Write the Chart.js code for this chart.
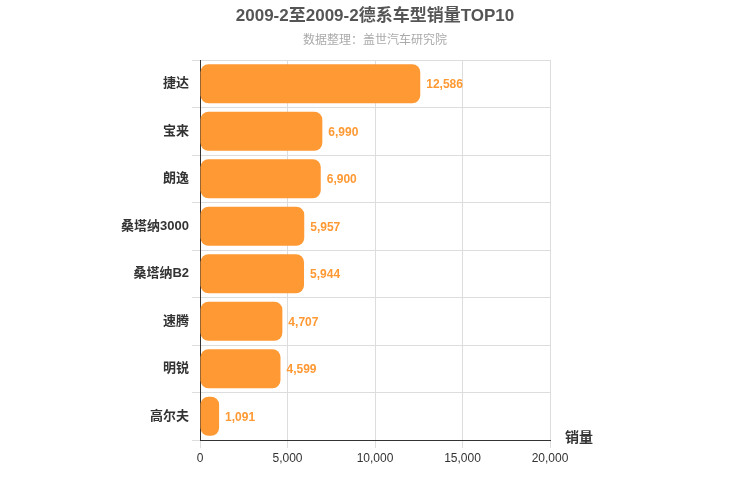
<!DOCTYPE html>
<html><head><meta charset="utf-8">
<script src="https://cdn.jsdelivr.net/npm/chart.js@4/dist/chart.umd.min.js"></script>
<style>html,body{margin:0;padding:0;background:#fff}#w{width:750px;height:500px}</style>
</head><body><div id="w"><canvas id="c" width="750" height="500"></canvas></div>
<script>
const categories = ['捷达','宝来','朗逸','桑塔纳3000','桑塔纳B2','速腾','明锐','高尔夫'];
const sales = [12586, 6990, 6900, 5957, 5944, 4707, 4599, 1091];
const xTicks = [0, 5000, 10000, 15000, 20000];
const FONT = '"Liberation Sans", "Noto Sans CJK SC", sans-serif';
const labelPlugin = {
  id: 'lbl',
  afterDatasetsDraw(chart) {
    const ctx = chart.ctx;
    const meta = chart.getDatasetMeta(0);
    ctx.save();
    ctx.font = 'bold 12px ' + FONT;
    ctx.fillStyle = '#FF9933';
    ctx.textBaseline = 'middle';
    meta.data.forEach((b, i) => {
      ctx.fillText(sales[i].toLocaleString('en-US'), b.x + 6, b.y + 1);
    });
    ctx.textAlign = 'center';
    ctx.font = 'bold 17px ' + FONT;
    ctx.fillStyle = '#555';
    ctx.fillText('2009-2至2009-2德系车型销量TOP10', 375, 16);
    ctx.font = '12px ' + FONT;
    ctx.fillStyle = '#aaa';
    ctx.fillText('数据整理：盖世汽车研究院', 375, 41);
    ctx.textAlign = 'left';
    ctx.font = 'bold 14px ' + FONT;
    ctx.fillStyle = '#333';
    ctx.fillText('销量', 565, 438);
    ctx.restore();
  }
};
new Chart(document.getElementById('c'), {
  type: 'bar',
  data: { labels: categories, datasets: [{ data: sales, backgroundColor: '#FF9933', borderRadius: 8, borderSkipped: false, categoryPercentage: 0.82, barPercentage: 1 }] },
  options: {
    indexAxis: 'y', responsive: false, animation: false,
    layout: { padding: { left: 0, right: 200, top: 60, bottom: 35 } },
    plugins: { legend: { display: false }, tooltip: { enabled: false } },
    scales: {
      x: { min: 0, max: 20000, afterBuildTicks: a => { a.ticks = xTicks.map(v => ({ value: v })); },
        afterFit: a => { a.height = 25; },
        ticks: { color: '#333', font: { family: FONT, size: 12 }, callback: v => v.toLocaleString('en-US') },
        grid: { color: '#ddd' }, border: { color: '#333' } },
      y: { afterFit: a => { a.width = 200; },
        ticks: { color: '#333', font: { family: FONT, size: 13, weight: 'bold' } },
        grid: { color: '#ddd', offset: true }, border: { color: '#333' } }
    }
  },
  plugins: [labelPlugin]
});
</script></body></html>
